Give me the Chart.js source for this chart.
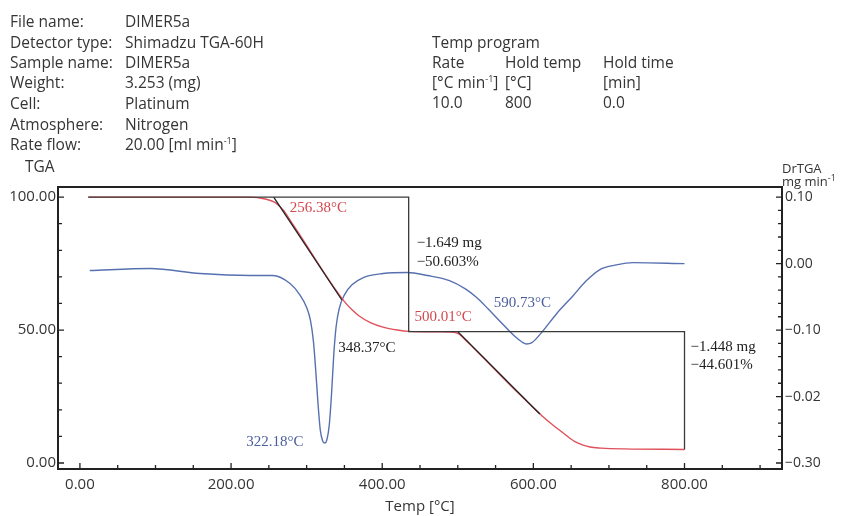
<!DOCTYPE html>
<html>
<head>
<meta charset="utf-8">
<script src="https://cdn.jsdelivr.net/npm/chart.js@4.4.1/dist/chart.umd.min.js"></script>
<style>
body { margin: 0; background: #fff; }
#wrap { position: relative; width: 843px; height: 516px; font-family: 'Open Sans', sans-serif; color: #353535; }
#wrap canvas { position: absolute; left: 0; top: 0; }
.t { position: absolute; font-size: 15.5px; line-height: 18px; white-space: nowrap; }
.t sup { font-size: 9px; line-height: 0; }
.s { font-size: 13px; line-height: 14px; }
</style>
</head>
<body>
<div id="wrap">
  <canvas id="tgaChart" width="843" height="516"></canvas>

  <!-- run info -->
  <div class="t" style="left:10px;top:12px">File name:</div>
  <div class="t" style="left:125px;top:12px">DIMER5a</div>
  <div class="t" style="left:10px;top:33px">Detector type:</div>
  <div class="t" style="left:125px;top:33px">Shimadzu TGA-60H</div>
  <div class="t" style="left:10px;top:53px">Sample name:</div>
  <div class="t" style="left:125px;top:53px">DIMER5a</div>
  <div class="t" style="left:10px;top:73px">Weight:</div>
  <div class="t" style="left:125px;top:73px">3.253 (mg)</div>
  <div class="t" style="left:10px;top:94px">Cell:</div>
  <div class="t" style="left:125px;top:94px">Platinum</div>
  <div class="t" style="left:10px;top:115px">Atmosphere:</div>
  <div class="t" style="left:125px;top:115px">Nitrogen</div>
  <div class="t" style="left:10px;top:135px">Rate flow:</div>
  <div class="t" style="left:125px;top:135px">20.00 [ml min<sup>-1</sup>]</div>

  <div class="t" style="left:432px;top:33px">Temp program</div>
  <div class="t" style="left:432px;top:53px">Rate</div>
  <div class="t" style="left:505px;top:53px">Hold temp</div>
  <div class="t" style="left:603px;top:53px">Hold time</div>
  <div class="t" style="left:432px;top:73px">[°C min<sup>-1</sup>]</div>
  <div class="t" style="left:505px;top:73px">[°C]</div>
  <div class="t" style="left:603px;top:73px">[min]</div>
  <div class="t" style="left:432px;top:93px">10.0</div>
  <div class="t" style="left:505px;top:93px">800</div>
  <div class="t" style="left:603px;top:93px">0.0</div>

  <!-- axis names -->
  <div class="t" style="left:25px;top:157px">TGA</div>
  <div class="t s" style="left:782px;top:161px">DrTGA</div>
  <div class="t s" style="left:782px;top:174px">mg min<sup>-1</sup></div>
</div>

<script>
// TGA curve (%)
const tempTGA = [11, 225, 245, 258, 270, 280, 291, 300, 310, 320, 330, 340, 350, 360, 370, 385, 401, 420, 435, 476, 499, 510, 520, 540, 560, 580, 600, 612, 625, 640, 655, 675, 690, 720, 800];
const massTGA = [100, 100, 99.3, 98, 94.8, 90.5, 85.8, 81.8, 77.3, 72.9, 68.6, 64.5, 60.7, 57.6, 55.2, 52.7, 51.1, 50, 49.5, 49.3, 48.9, 46.3, 43.5, 37.8, 32, 26.3, 20.8, 17.6, 14.5, 11.2, 8, 6, 5.6, 5.3, 5.1];

// DrTGA curve (mg/min)
const tempDTG = [13, 93, 159, 225, 255, 278, 291, 300, 305, 309, 312, 315, 318, 321, 324, 327, 330, 333, 336, 339, 343, 350, 360, 375, 401, 433, 460, 489, 510, 525, 540, 556, 575, 585, 591, 598, 610, 631, 652, 670, 688, 710, 732, 800];
const rateDTG = [-0.0105, -0.0075, -0.015, -0.018, -0.018, -0.030, -0.047, -0.066, -0.085, -0.117, -0.16, -0.21, -0.25, -0.266, -0.27, -0.264, -0.242, -0.195, -0.135, -0.095, -0.068, -0.047, -0.032, -0.021, -0.015, -0.0135, -0.018, -0.0256, -0.038, -0.051, -0.068, -0.087, -0.109, -0.118, -0.121, -0.119, -0.105, -0.075, -0.049, -0.026, -0.009, -0.002, 0.0015, 0];

// tangent lines and step box
const tangent1Temp = [256.38, 346.6];
const tangent1Mass = [100, 61.3];
const tangent2Temp = [500.01, 608.5];
const tangent2Mass = [49.4, 18.4];
const stepTemp = [11, 435, 435, 800, 800];
const stepMass = [100, 100, 49.4, 49.4, 5.1];

// ticks
const xTicks = [0, 200, 400, 600, 800];
const yTicks = [0, 50, 100];
const drTicks = [0.1, 0, -0.1, -0.2, -0.3];
const drTickLabels = ['0.10', '0.00', '\u22120.10', '\u22120.02', '\u22120.30'];

// annotations: text + anchor in data units
const noteTexts = ['256.38°C', '348.37°C', '500.01°C', '590.73°C', '322.18°C', '\u22121.649 mg', '\u221250.603%', '\u22121.448 mg', '\u221244.601%'];
const noteTemps = [256.38, 348.37, 500.01, 590.73, 322.18, 435, 435, 800, 800];
const noteValues = [100, 49.4, 49.4, -0.121, -0.269, 100, 100, 49.4, 49.4];
const noteAxes = ['y', 'y', 'y', 'y1', 'y1', 'y', 'y', 'y', 'y'];

// how each note sits next to its anchor
const noteStyle = [
    { dx: 16, dy: 11, align: 'left', color: '#d4484e' },
    { dx: -5, dy: 16, align: 'left', color: '#222' },
    { dx: 14, dy: -15, align: 'right', color: '#d4484e' },
    { dx: -4, dy: -41, align: 'center', color: '#4a5e9e' },
    { dx: -20, dy: 0, align: 'right', color: '#4a5e9e' },
    { dx: 8, dy: 46, align: 'left', color: '#222' },
    { dx: 8, dy: 65, align: 'left', color: '#222' },
    { dx: 6, dy: 15, align: 'left', color: '#222' },
    { dx: 6, dy: 33, align: 'left', color: '#222' }
];

const toPoints = (xs, ys) => xs.map((v, i) => ({ x: v, y: ys[i] }));

const tickFont = { family: "'Open Sans', sans-serif", size: 15 };

// frame with inward ticks, like the instrument software
const frameTicks = {
    id: 'frameTicks',
    afterDraw(chart) {
        const { ctx, chartArea: a, scales } = chart;
        const { x, y, y1 } = scales;
        ctx.save();
        ctx.strokeStyle = '#222';
        ctx.lineWidth = 1.3;
        ctx.beginPath();
        for (let v = 0; v <= 900; v += 50) {
            const px = x.getPixelForValue(v);
            const len = (v % 200 === 0 && v <= 800) ? 6 : 4;
            ctx.moveTo(px, a.bottom);
            ctx.lineTo(px, a.bottom - len);
        }
        for (let v = 0; v <= 100; v += 10) {
            const py = y.getPixelForValue(v);
            const len = (v % 50 === 0) ? 6 : 4;
            ctx.moveTo(a.left, py);
            ctx.lineTo(a.left + len, py);
        }
        for (let k = -15; k <= 5; k++) {
            const py = y1.getPixelForValue(k * 0.02);
            const len = (k % 5 === 0) ? 6 : 4;
            ctx.moveTo(a.right, py);
            ctx.lineTo(a.right - len, py);
        }
        ctx.stroke();
        ctx.lineWidth = 2;
        ctx.strokeRect(a.left, a.top, a.right - a.left, a.bottom - a.top);
        ctx.restore();
    }
};

const notes = {
    id: 'notes',
    afterDatasetsDraw(chart) {
        const { ctx, scales } = chart;
        ctx.save();
        ctx.font = '15px "Liberation Serif", serif';
        ctx.textBaseline = 'middle';
        noteTexts.forEach((txt, i) => {
            const s = noteStyle[i];
            const px = scales.x.getPixelForValue(noteTemps[i]) + s.dx;
            const py = scales[noteAxes[i]].getPixelForValue(noteValues[i]) + s.dy;
            ctx.fillStyle = s.color;
            ctx.textAlign = s.align;
            ctx.fillText(txt, px, py);
        });
        ctx.restore();
    }
};

new Chart(document.getElementById('tgaChart'), {
    type: 'line',
    data: {
        datasets: [
            {
                label: 'step',
                data: toPoints(stepTemp, stepMass),
                borderColor: '#3a3a3a', borderWidth: 1.3,
                pointRadius: 0, tension: 0, yAxisID: 'y', order: 1
            },
            {
                label: 'tangent 1',
                data: toPoints(tangent1Temp, tangent1Mass),
                borderColor: '#222', borderWidth: 1.3,
                pointRadius: 0, tension: 0, yAxisID: 'y', order: 2
            },
            {
                label: 'tangent 2',
                data: toPoints(tangent2Temp, tangent2Mass),
                borderColor: '#222', borderWidth: 1.3,
                pointRadius: 0, tension: 0, yAxisID: 'y', order: 2
            },
            {
                label: 'TGA',
                data: toPoints(tempTGA, massTGA),
                borderColor: '#e0505a', borderWidth: 1.4,
                pointRadius: 0, cubicInterpolationMode: 'monotone', yAxisID: 'y', order: 3
            },
            {
                label: 'DrTGA',
                data: toPoints(tempDTG, rateDTG),
                borderColor: '#5670b0', borderWidth: 1.4,
                pointRadius: 0, cubicInterpolationMode: 'monotone', yAxisID: 'y1', order: 4
            }
        ]
    },
    options: {
        responsive: false,
        animation: false,
        layout: { padding: { top: 187, left: 0, right: 0, bottom: 0 } },
        plugins: {
            legend: { display: false },
            tooltip: { enabled: false }
        },
        scales: {
            x: {
                type: 'linear', min: -29, max: 929,
                grid: { display: false, drawTicks: false },
                border: { display: false },
                afterBuildTicks: s => { s.ticks = xTicks.map(v => ({ value: v })); },
                afterFit: s => { s.height = 47; },
                ticks: {
                    padding: 7, maxRotation: 0, autoSkip: false,
                    color: '#353535', font: tickFont,
                    callback: v => v.toFixed(2)
                },
                title: {
                    display: true, text: 'Temp [°C]', color: '#353535',
                    font: tickFont, padding: { top: 0, bottom: 0 }
                }
            },
            y: {
                position: 'left', min: -2.26, max: 103.8,
                grid: { display: false, drawTicks: false },
                border: { display: false },
                afterBuildTicks: s => { s.ticks = yTicks.map(v => ({ value: v })); },
                afterFit: s => { s.width = 58; },
                ticks: {
                    padding: 2, color: '#353535', font: tickFont,
                    callback: v => v.toFixed(2)
                }
            },
            y1: {
                position: 'right', min: -0.309, max: 0.1152,
                grid: { display: false, drawTicks: false },
                border: { display: false },
                afterBuildTicks: s => { s.ticks = drTicks.map(v => ({ value: v })); },
                afterFit: s => { s.width = 61; },
                ticks: {
                    padding: 3, color: '#353535', font: { family: "'Open Sans', sans-serif", size: 14 },
                    callback: v => drTickLabels[drTicks.indexOf(v)]
                }
            }
        }
    },
    plugins: [frameTicks, notes]
});
</script>
</body>
</html>
